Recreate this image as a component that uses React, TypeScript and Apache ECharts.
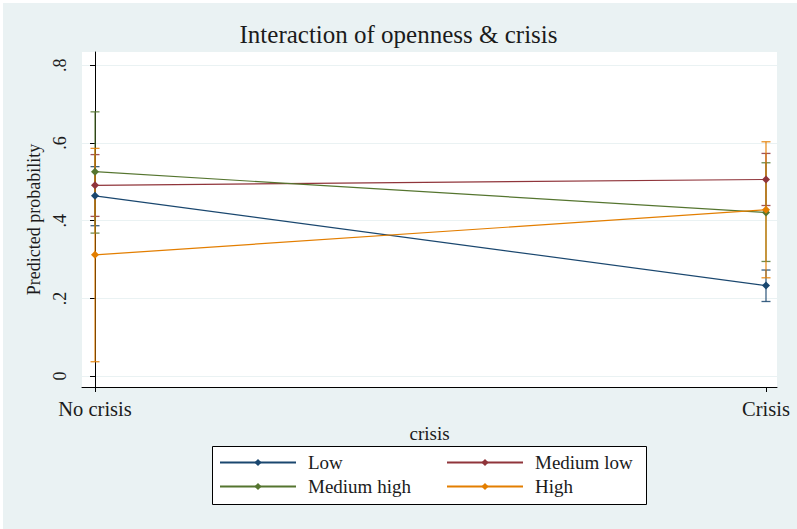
import React, { useEffect, useRef } from 'react';
import * as echarts from 'echarts';

// Categories on the x axis and where they sit on the value scale
const categories = ['No crisis', 'Crisis'];
const xPositions = [0, 1];

// Openness groups
const groupNames = ['Low', 'Medium low', 'Medium high', 'High'];
const groupColors = ['#1a476f', '#90353b', '#55752f', '#e37e00'];

// Predicted probabilities (No crisis, Crisis)
const lowMargins = [0.464, 0.233];
const mediumLowMargins = [0.491, 0.506];
const mediumHighMargins = [0.526, 0.421];
const highMargins = [0.312, 0.428];

// Confidence intervals [lower, upper] (No crisis, Crisis)
const lowCI = [[0.387, 0.539], [0.192, 0.273]];
const mediumLowCI = [[0.411, 0.570], [0.439, 0.573]];
const mediumHighCI = [[0.368, 0.680], [0.295, 0.549]];
const highCI = [[0.037, 0.586], [0.253, 0.603]];

// Y axis ticks
const yTickValues = [0, 0.2, 0.4, 0.6, 0.8];
const yTickLabels = ['0', '.2', '.4', '.6', '.8'];

const margins = [lowMargins, mediumLowMargins, mediumHighMargins, highMargins];
const intervals = [lowCI, mediumLowCI, mediumHighCI, highCI];

const SERIF = '"Liberation Serif", "Times New Roman", serif';
const TEXT = '#1b1b1b';
const BG = '#eaf2f3';

export default function App() {
  const ref = useRef<HTMLDivElement>(null);

  useEffect(() => {
    if (!ref.current) return;
    const chart = echarts.init(ref.current, undefined, { renderer: 'svg' });

    const ciSeries = groupNames.map((name, gi) => ({
      name: name + ' CI',
      type: 'custom',
      data: xPositions.map((x, i) => [x, intervals[gi][i][0], intervals[gi][i][1]]),
      encode: { x: 0, y: [1, 2] },
      z: 2,
      silent: true,
      renderItem: (params: any, api: any) => {
        const x = api.value(0);
        const lo = api.coord([x, api.value(1)]);
        const hi = api.coord([x, api.value(2)]);
        const cap = 4.5;
        const style = { stroke: groupColors[gi], lineWidth: 1.3, opacity: 0.85 };
        return {
          type: 'group',
          children: [
            { type: 'line', shape: { x1: lo[0], y1: lo[1], x2: hi[0], y2: hi[1] }, style },
            { type: 'line', shape: { x1: lo[0] - cap, y1: lo[1], x2: lo[0] + cap, y2: lo[1] }, style },
            { type: 'line', shape: { x1: hi[0] - cap, y1: hi[1], x2: hi[0] + cap, y2: hi[1] }, style },
          ],
        };
      },
    }));

    const lineSeries = groupNames.map((name, gi) => ({
      name,
      type: 'line',
      data: xPositions.map((x, i) => [x, margins[gi][i]]),
      symbol: 'diamond',
      symbolSize: 8,
      z: 3,
      itemStyle: { color: groupColors[gi] },
      lineStyle: { color: groupColors[gi], width: 1.2 },
    }));

    const legendPos = [
      { left: 219, top: 453 },
      { left: 446, top: 453 },
      { left: 219, top: 477 },
      { left: 446, top: 477 },
    ];

    const legends = groupNames.map((name, gi) => ({
      data: [name],
      left: legendPos[gi].left,
      top: legendPos[gi].top,
      padding: 0,
      itemWidth: 76,
      itemHeight: 9,
      selectedMode: false,
      textStyle: {
        fontFamily: SERIF,
        fontSize: 19,
        color: TEXT,
        padding: [0, 0, 0, 7],
      },
    }));

    chart.setOption({
      animation: false,
      backgroundColor: BG,
      title: {
        text: 'Interaction of openness & crisis',
        left: 'center',
        top: 22,
        padding: 0,
        textStyle: { fontFamily: SERIF, fontSize: 25, fontWeight: 'normal', color: TEXT },
      },
      graphic: [
        // thin white frame along the top and left edges
        { type: 'rect', left: 0, top: 0, shape: { width: 797, height: 3 }, style: { fill: '#ffffff' }, z: -1 },
        { type: 'rect', left: 0, top: 0, shape: { width: 3, height: 529 }, style: { fill: '#ffffff' }, z: -1 },
        // legend box
        {
          type: 'rect',
          left: 212,
          top: 446,
          shape: { width: 434, height: 58 },
          style: { fill: '#ffffff', stroke: '#000000', lineWidth: 1 },
          z: 0,
        },
      ],
      legend: legends,
      grid: {
        left: 82,
        right: 20,
        top: 52,
        bottom: 142,
        show: true,
        backgroundColor: '#ffffff',
        borderWidth: 0,
      },
      xAxis: {
        type: 'value',
        min: -0.0194,
        max: 1.0164,
        name: 'crisis',
        nameLocation: 'middle',
        nameGap: 30,
        nameTextStyle: { fontFamily: SERIF, fontSize: 19, color: TEXT },
        axisLine: { show: true, onZero: false, lineStyle: { color: '#000000', width: 1 } },
        axisTick: { show: true, length: 5, customValues: xPositions, lineStyle: { color: '#000000' } },
        axisLabel: {
          customValues: xPositions,
          formatter: (v: number) => categories[xPositions.indexOf(Math.round(v))] ?? '',
          fontFamily: SERIF,
          fontSize: 20.5,
          color: TEXT,
          margin: 11,
        },
        splitLine: { show: false },
      },
      yAxis: {
        type: 'value',
        min: -0.028,
        max: 0.834,
        name: 'Predicted probability',
        nameLocation: 'middle',
        nameGap: 38,
        nameRotate: 90,
        nameTextStyle: { fontFamily: SERIF, fontSize: 18, color: TEXT },
        axisLine: { show: true, lineStyle: { color: '#000000', width: 1 } },
        axisTick: { show: true, length: 5, customValues: yTickValues, lineStyle: { color: '#000000' } },
        axisLabel: {
          customValues: yTickValues,
          rotate: 90,
          formatter: (v: number) => yTickLabels[yTickValues.findIndex((t) => Math.abs(t - v) < 1e-6)] ?? '',
          fontFamily: SERIF,
          fontSize: 18,
          color: TEXT,
          margin: 13,
        },
        splitLine: { show: true, lineStyle: { color: BG, width: 1 } },
      },
      series: [...ciSeries, ...lineSeries],
    });

    return () => chart.dispose();
  }, []);

  return (
    <div
      ref={ref}
      style={{ position: 'absolute', left: 0, top: 0, width: 797, height: 529 }}
    />
  );
}
